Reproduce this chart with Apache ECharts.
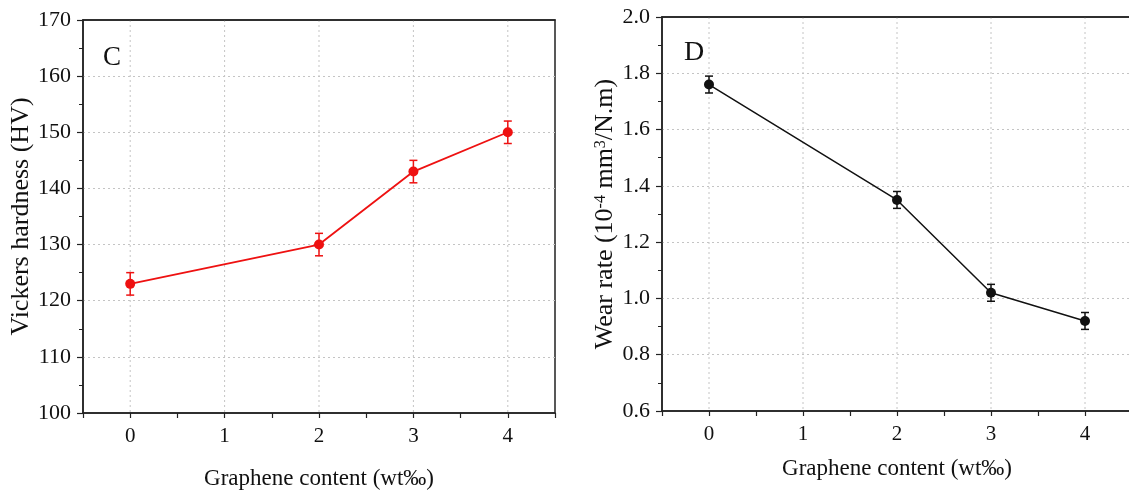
<!DOCTYPE html>
<html><head><meta charset="utf-8">
<script src="https://cdn.jsdelivr.net/npm/echarts@6/dist/echarts.min.js"></script>
<style>html,body{margin:0;padding:0;background:#fff}#c{width:1129px;height:495px}</style>
</head><body><div id="c"></div>
<script>
const xLabels = [0, 1, 2, 3, 4];
const graphene = [0, 2, 3, 4];
const hardness = [123, 130, 143, 150];
const hardnessErr = [2, 2, 2, 2];
const wearRate = [1.76, 1.35, 1.02, 0.92];
const wearErr = [0.03, 0.03, 0.03, 0.03];
const hardTicks = [100, 110, 120, 130, 140, 150, 160, 170];
const wearTicks = [0.6, 0.8, 1.0, 1.2, 1.4, 1.6, 1.8, 2.0];

const FONT = '"Liberation Serif","DejaVu Serif",serif';
const GRIDLINE = { color: '#c4c4c4', type: [2, 3], width: 1 };
const chart = echarts.init(document.getElementById('c'));

function xAxis(gi, gap) {
  return {
    gridIndex: gi, type: 'value', min: -0.5, max: 4.5, interval: 0.5,
    name: 'Graphene content (wt‰)', nameLocation: 'middle', nameGap: gap,
    nameTextStyle: { fontFamily: FONT, fontSize: 23, color: '#111' },
    axisLine: { show: true, onZero: false, lineStyle: { color: '#222', width: 1.5 } },
    axisTick: { show: true, length: 5, lineStyle: { color: '#222', width: 1.2 } },
    axisLabel: { margin: 13, fontFamily: FONT, fontSize: 21, color: '#111',
      formatter: v => xLabels.includes(v) ? String(v) : '' },
    splitLine: { show: false },
  };
}

function topAxis(gi) {
  return {
    gridIndex: gi, type: 'value', position: 'top', min: -0.5, max: 4.5, interval: 0.5,
    axisLine: { show: true, onZero: false, lineStyle: { color: '#222', width: 1.5 } },
    axisTick: { show: false }, axisLabel: { show: false }, splitLine: { show: false },
  };
}

function yAxis(gi, ticks, interval, name, gap, extra) {
  return Object.assign({
    gridIndex: gi, type: 'value', min: ticks[0], max: ticks[ticks.length - 1], interval: interval,
    name: name, nameLocation: 'middle', nameGap: gap,
    axisLine: { show: true, onZero: false, lineStyle: { color: '#222', width: 1.5 } },
    axisTick: { show: true, length: 6, lineStyle: { color: '#222', width: 1.2 } },
    minorTick: { show: true, splitNumber: 2, length: 4, lineStyle: { color: '#222', width: 1 } },
    axisLabel: { margin: 12, fontFamily: FONT, fontSize: 22, color: '#111' },
    splitLine: { show: true, showMinLine: false, showMaxLine: false, lineStyle: GRIDLINE },
  }, extra);
}

function vGridSeries(xi, yi) {
  return {
    type: 'custom', xAxisIndex: xi, yAxisIndex: yi, z: 0, silent: true,
    data: xLabels.map(v => [v]),
    encode: { x: 0 },
    renderItem: (params, api) => {
      const cs = params.coordSys;
      const x = api.coord([api.value(0), 0])[0];
      return { type: 'line', shape: { x1: x, y1: cs.y, x2: x, y2: cs.y + cs.height },
        style: { stroke: GRIDLINE.color, lineWidth: 1, lineDash: GRIDLINE.type } };
    }
  };
}

function errSeries(xi, yi, ys, errs, color) {
  return {
    type: 'custom', xAxisIndex: xi, yAxisIndex: yi, z: 2,
    data: graphene.map((x, i) => [x, ys[i] - errs[i], ys[i] + errs[i]]),
    renderItem: (params, api) => {
      const lo = api.coord([api.value(0), api.value(1)]);
      const hi = api.coord([api.value(0), api.value(2)]);
      const w = 4;
      const st = { stroke: color, lineWidth: 1.5 };
      return { type: 'group', children: [
        { type: 'line', shape: { x1: lo[0], y1: lo[1], x2: hi[0], y2: hi[1] }, style: st },
        { type: 'line', shape: { x1: lo[0] - w, y1: lo[1], x2: lo[0] + w, y2: lo[1] }, style: st },
        { type: 'line', shape: { x1: hi[0] - w, y1: hi[1], x2: hi[0] + w, y2: hi[1] }, style: st },
      ]};
    }
  };
}

const option = {
  animation: false,
  backgroundColor: '#fff',
  grid: [
    { left: 83, top: 20, width: 472, height: 393, show: true, borderColor: '#222', borderWidth: 1.5, outerBoundsMode: 'none', containLabel: false },
    { left: 662, top: 17, width: 470, height: 394, show: true, borderColor: '#222', borderWidth: 1.5, outerBoundsMode: 'none', containLabel: false },
  ],
  xAxis: [xAxis(0, 54), xAxis(1, 46), topAxis(0), topAxis(1)],
  yAxis: [
    yAxis(0, hardTicks, 10, 'Vickers hardness (HV)', 48, {
      nameTextStyle: { fontFamily: FONT, fontSize: 26, color: '#111' } }),
    yAxis(1, wearTicks, 0.2, 'Wear rate (10{sup|-4} mm{sup|3}/N.m)', 43, {
      nameTextStyle: { fontFamily: FONT, fontSize: 26, color: '#111',
        rich: { sup: { fontFamily: FONT, fontSize: 16, color: '#111', verticalAlign: 'top', padding: [0, 0, 10, 0] } } },
      axisLabel: { margin: 12, fontFamily: FONT, fontSize: 22, color: '#111', formatter: v => v.toFixed(1) } }),
  ],
  series: [
    vGridSeries(0, 0),
    vGridSeries(1, 1),
    errSeries(0, 0, hardness, hardnessErr, '#ee1111'),
    { type: 'line', xAxisIndex: 0, yAxisIndex: 0, data: graphene.map((x, i) => [x, hardness[i]]),
      symbol: 'circle', symbolSize: 10, lineStyle: { color: '#ee1111', width: 1.8 },
      itemStyle: { color: '#ee1111', borderWidth: 0 }, z: 4 },
    errSeries(1, 1, wearRate, wearErr, '#111'),
    { type: 'line', xAxisIndex: 1, yAxisIndex: 1, data: graphene.map((x, i) => [x, wearRate[i]]),
      symbol: 'circle', symbolSize: 10, lineStyle: { color: '#111', width: 1.5 },
      itemStyle: { color: '#111', borderWidth: 0 }, z: 4 },
  ],
  graphic: [
    { type: 'text', left: 103, top: 44, style: { text: 'C', font: '27px ' + FONT, fill: '#111' } },
    { type: 'text', left: 684, top: 39, style: { text: 'D', font: '28px ' + FONT, fill: '#111' } },
  ],
};
chart.setOption(option);
</script></body></html>
